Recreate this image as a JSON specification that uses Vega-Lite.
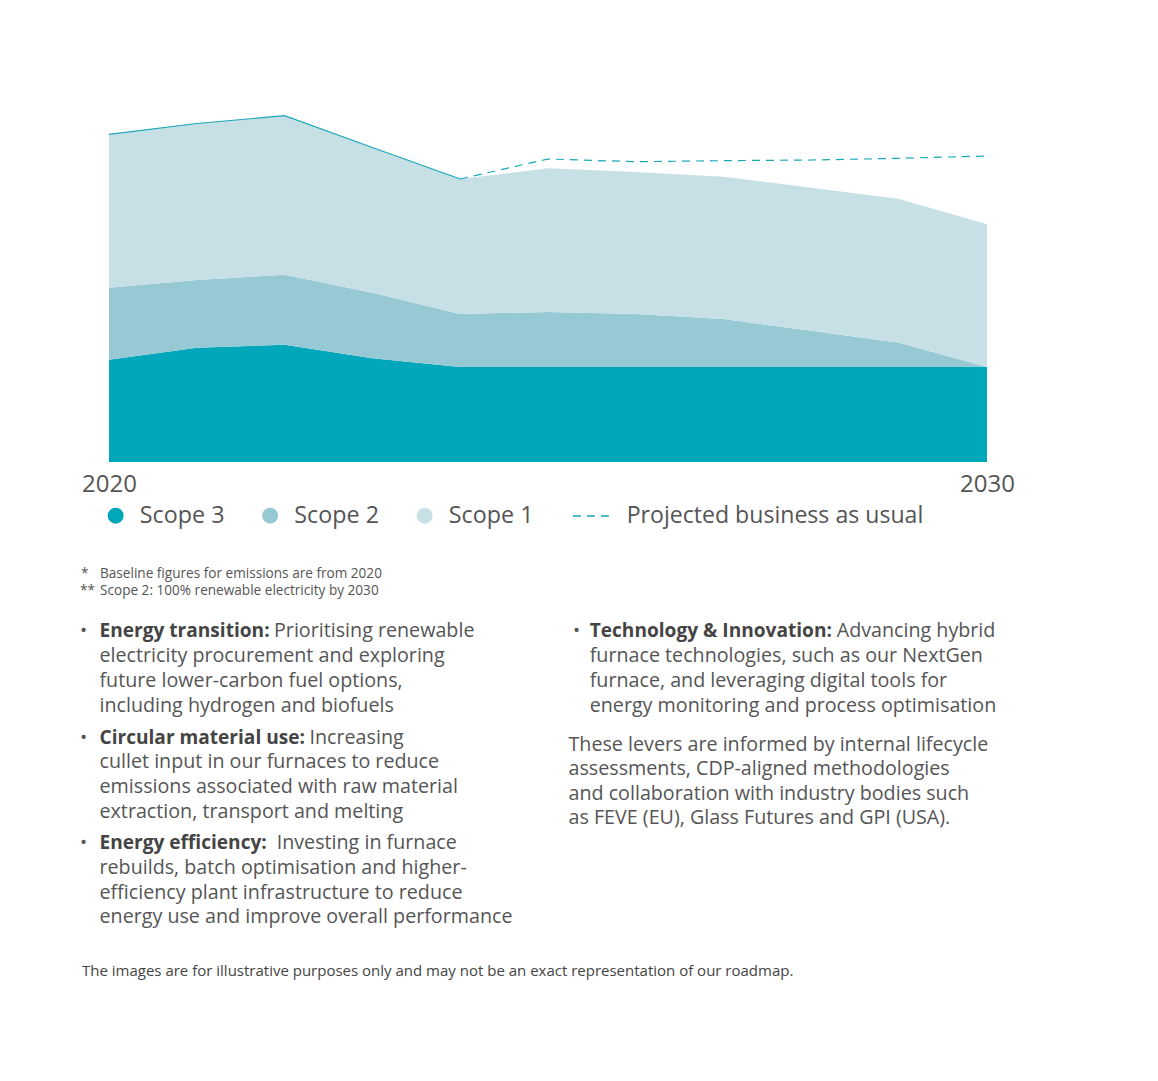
{
  "$schema": "https://vega.github.io/schema/vega-lite/v6.json",
  "background": "white",
  "padding": {"left": 80, "top": 100, "right": 0, "bottom": 0},
  "bounds": "flush",
  "spacing": 0,
  "config": {
    "view": {"stroke": null},
    "font": "Open Sans",
    "text": {"font": "Open Sans", "align": "left", "baseline": "alphabetic", "color": "#555555"}
  },
  "vconcat": [
    {
      "width": 936,
      "height": 362,
      "data": {
        "values": [
          {"year": 2020, "series": "Scope 3", "value": 102.3},
          {"year": 2021, "series": "Scope 3", "value": 114.3},
          {"year": 2022, "series": "Scope 3", "value": 117.3},
          {"year": 2023, "series": "Scope 3", "value": 103.7},
          {"year": 2024, "series": "Scope 3", "value": 95},
          {"year": 2025, "series": "Scope 3", "value": 95},
          {"year": 2026, "series": "Scope 3", "value": 95},
          {"year": 2027, "series": "Scope 3", "value": 95},
          {"year": 2028, "series": "Scope 3", "value": 95},
          {"year": 2029, "series": "Scope 3", "value": 95},
          {"year": 2030, "series": "Scope 3", "value": 95},
          {"year": 2020, "series": "Scope 2", "value": 72.0},
          {"year": 2021, "series": "Scope 2", "value": 67.7},
          {"year": 2022, "series": "Scope 2", "value": 70.0},
          {"year": 2023, "series": "Scope 2", "value": 65.6},
          {"year": 2024, "series": "Scope 2", "value": 53.0},
          {"year": 2025, "series": "Scope 2", "value": 55.0},
          {"year": 2026, "series": "Scope 2", "value": 53.0},
          {"year": 2027, "series": "Scope 2", "value": 48.0},
          {"year": 2028, "series": "Scope 2", "value": 36.2},
          {"year": 2029, "series": "Scope 2", "value": 24.3},
          {"year": 2030, "series": "Scope 2", "value": 0},
          {"year": 2020, "series": "Scope 1", "value": 153.4},
          {"year": 2021, "series": "Scope 1", "value": 156.5},
          {"year": 2022, "series": "Scope 1", "value": 159.0},
          {"year": 2023, "series": "Scope 1", "value": 145.2},
          {"year": 2024, "series": "Scope 1", "value": 135.0},
          {"year": 2025, "series": "Scope 1", "value": 143.7},
          {"year": 2026, "series": "Scope 1", "value": 142.0},
          {"year": 2027, "series": "Scope 1", "value": 142.3},
          {"year": 2028, "series": "Scope 1", "value": 143.0},
          {"year": 2029, "series": "Scope 1", "value": 143.7},
          {"year": 2030, "series": "Scope 1", "value": 142.7},
          {"year": 2020, "series": "Total", "value": 327.7},
          {"year": 2021, "series": "Total", "value": 338.5},
          {"year": 2022, "series": "Total", "value": 346.3},
          {"year": 2023, "series": "Total", "value": 314.5},
          {"year": 2024, "series": "Total", "value": 283.0},
          {"year": 2024, "series": "Projected business as usual", "value": 283.0},
          {"year": 2025, "series": "Projected business as usual", "value": 303.0},
          {"year": 2026, "series": "Projected business as usual", "value": 300.3},
          {"year": 2027, "series": "Projected business as usual", "value": 301.3},
          {"year": 2028, "series": "Projected business as usual", "value": 302.0},
          {"year": 2029, "series": "Projected business as usual", "value": 303.7},
          {"year": 2030, "series": "Projected business as usual", "value": 306.0}
        ]
      },
      "encoding": {
        "x": {
          "field": "year",
          "type": "quantitative",
          "scale": {"domain": [2020, 2030], "padding": 29, "nice": false, "zero": false},
          "axis": {
            "title": null,
            "values": [2020, 2030],
            "format": "d",
            "domain": false,
            "ticks": false,
            "tickSize": 0,
            "grid": false,
            "labelFontSize": 24,
            "labelColor": "#555555",
            "labelPadding": 10,
            "labelFont": "Open Sans"
          }
        }
      },
      "layer": [
        {
          "transform": [{"filter": "datum.series === 'Scope 1' || datum.series === 'Scope 2' || datum.series === 'Scope 3'"}],
          "mark": {"type": "area", "opacity": 1},
          "encoding": {
            "y": {"field": "value", "type": "quantitative", "stack": "zero", "scale": {"domain": [0, 362], "nice": false}, "axis": null},
            "color": {
              "field": "series",
              "type": "nominal",
              "scale": {"domain": ["Scope 3", "Scope 2", "Scope 1"], "range": ["#00a6b9", "#97c9d4", "#c6e0e6"]},
              "legend": {
                "title": null,
                "orient": "none",
                "legendX": 24,
                "legendY": 404,
                "direction": "horizontal",
                "symbolType": "circle",
                "symbolSize": 254,
                "symbolOpacity": 1,
                "symbolStrokeWidth": 0,
                "labelFontSize": 23.3,
                "labelColor": "#555555",
                "labelFont": "Open Sans",
                "labelOffset": 12.5,
                "labelLimit": 0,
                "columnPadding": 33.5,
                "padding": 0
              }
            },
            "order": {"field": "series", "sort": "descending"}
          }
        },
        {
          "transform": [{"filter": "datum.series === 'Total'"}],
          "mark": {"type": "line", "color": "#1aa8b9", "strokeWidth": 1.2},
          "encoding": {
            "y": {"field": "value", "type": "quantitative", "axis": null}
          }
        },
        {
          "transform": [{"filter": "datum.series === 'Projected business as usual'"}],
          "mark": {"type": "line", "color": "#1aa8b9", "strokeWidth": 1.2},
          "encoding": {
            "y": {"field": "value", "type": "quantitative", "axis": null},
            "strokeDash": {
              "field": "series",
              "type": "nominal",
              "scale": {"domain": ["Projected business as usual"], "range": [[8, 6]]},
              "legend": {
                "title": null,
                "orient": "none",
                "legendX": 491.7,
                "legendY": 394.5,
                "direction": "horizontal",
                "symbolType": "stroke",
                "symbolSize": 1650,
                "symbolStrokeColor": "#1aa8b9",
                "symbolStrokeWidth": 1.5,
                "labelFontSize": 23.1,
                "labelColor": "#555555",
                "labelFont": "Open Sans",
                "labelOffset": 12,
                "labelLimit": 0,
                "padding": 0,
                "encode": {"symbols": {"update": {"strokeDash": {"value": [6, 5]}, "stroke": {"value": "#1aa8b9"}}}}
              }
            }
          }
        }
      ]
    },
    {
      "width": 936,
      "height": {"step": 81.45},
      "data": {
        "values": [
          {"block": "notes", "line": 0, "mark": "*", "text": "Baseline figures for emissions are from 2020"},
          {"block": "notes", "line": 1, "mark": "**", "text": "Scope 2: 100% renewable electricity by 2030"}
        ]
      },
      "encoding": {
        "y": {"field": "block", "type": "nominal", "axis": null, "scale": {"type": "point", "padding": 1, "align": 0.7103, "round": false}},
        "x": {"value": 0}
      },
      "layer": [
        {
          "transform": [{"filter": "datum.line == 0"}],
          "mark": {"type": "text", "fontSize": 13.6, "color": "#555555", "dx": 1},
          "encoding": {"text": {"field": "mark"}}
        },
        {
          "transform": [{"filter": "datum.line == 0"}],
          "mark": {"type": "text", "fontSize": 13.6, "color": "#555555", "dx": 20},
          "encoding": {"text": {"field": "text"}}
        },
        {
          "transform": [{"filter": "datum.line == 1"}],
          "mark": {"type": "text", "fontSize": 13.6, "color": "#555555", "dy": 16.8},
          "encoding": {"text": {"field": "mark"}}
        },
        {
          "transform": [{"filter": "datum.line == 1"}],
          "mark": {"type": "text", "fontSize": 13.6, "color": "#555555", "dx": 20, "dy": 16.8},
          "encoding": {"text": {"field": "text"}}
        }
      ]
    },
    {
      "width": 936,
      "height": {"step": 24.8},
      "data": {
        "values": [
          {"block": "b1", "line": 0, "lead": "Energy transition:", "text": "Prioritising renewable"},
          {"block": "b1", "line": 1, "text": "electricity procurement and exploring"},
          {"block": "b1", "line": 2, "text": "future lower-carbon fuel options,"},
          {"block": "b1", "line": 3, "text": "including hydrogen and biofuels"},
          {"block": "b4", "line": 0, "lead": "Technology & Innovation:", "text": "Advancing hybrid"},
          {"block": "b4", "line": 1, "text": "furnace technologies, such as our NextGen"},
          {"block": "b4", "line": 2, "text": "furnace, and leveraging digital tools for"},
          {"block": "b4", "line": 3, "text": "energy monitoring and process optimisation"}
        ]
      },
      "encoding": {
        "y": {"field": "line", "type": "ordinal", "axis": null, "scale": {"type": "point", "padding": 0.56855, "align": 0.43972, "round": false}},
        "x": {"value": 0}
      },
      "layer": [
        {"transform": [{"filter": "datum.block === 'b1' && datum.line == 0"}], "mark": {"type": "text", "fontSize": 19}, "encoding": {"text": {"value": "•"}}},
        {"transform": [{"filter": "datum.block === 'b1' && datum.line == 0"}], "mark": {"type": "text", "fontSize": 19.1, "fontWeight": "bold", "color": "#444444", "dx": 19.5}, "encoding": {"text": {"field": "lead"}}},
        {"transform": [{"filter": "datum.block === 'b1' && datum.line == 0"}], "mark": {"type": "text", "fontSize": 19.7, "dx": 194}, "encoding": {"text": {"field": "text"}}},
        {"transform": [{"filter": "datum.block === 'b1' && datum.line > 0"}], "mark": {"type": "text", "fontSize": 19.7, "dx": 19.5}, "encoding": {"text": {"field": "text"}}},
        {"transform": [{"filter": "datum.block === 'b4' && datum.line == 0"}], "mark": {"type": "text", "fontSize": 19, "dx": 493}, "encoding": {"text": {"value": "•"}}},
        {"transform": [{"filter": "datum.block === 'b4' && datum.line == 0"}], "mark": {"type": "text", "fontSize": 19.1, "fontWeight": "bold", "color": "#444444", "dx": 509.7}, "encoding": {"text": {"field": "lead"}}},
        {"transform": [{"filter": "datum.block === 'b4' && datum.line == 0"}], "mark": {"type": "text", "fontSize": 19.7, "dx": 756.7}, "encoding": {"text": {"field": "text"}}},
        {"transform": [{"filter": "datum.block === 'b4' && datum.line > 0"}], "mark": {"type": "text", "fontSize": 19.7, "dx": 509.7}, "encoding": {"text": {"field": "text"}}}
      ]
    },
    {
      "width": 936,
      "height": {"step": 24.6},
      "data": {
        "values": [
          {"block": "b2", "line": 0, "lead": "Circular material use:", "text": "Increasing"},
          {"block": "b2", "line": 1, "text": "cullet input in our furnaces to reduce"},
          {"block": "b2", "line": 2, "text": "emissions associated with raw material"},
          {"block": "b2", "line": 3, "text": "extraction, transport and melting"},
          {"block": "para", "line": 0, "text": "These levers are informed by internal lifecycle"},
          {"block": "para", "line": 1, "text": "assessments, CDP-aligned methodologies"},
          {"block": "para", "line": 2, "text": "and collaboration with industry bodies such"},
          {"block": "para", "line": 3, "text": "as FEVE (EU), Glass Futures and GPI (USA)."}
        ]
      },
      "encoding": {
        "y": {"field": "line", "type": "ordinal", "axis": null, "scale": {"type": "point", "padding": 0.64228, "align": 0.5, "round": false}},
        "x": {"value": 0}
      },
      "layer": [
        {"transform": [{"filter": "datum.block === 'b2' && datum.line == 0"}], "mark": {"type": "text", "fontSize": 19}, "encoding": {"text": {"value": "•"}}},
        {"transform": [{"filter": "datum.block === 'b2' && datum.line == 0"}], "mark": {"type": "text", "fontSize": 19.1, "fontWeight": "bold", "color": "#444444", "dx": 19.5}, "encoding": {"text": {"field": "lead"}}},
        {"transform": [{"filter": "datum.block === 'b2' && datum.line == 0"}], "mark": {"type": "text", "fontSize": 19.7, "dx": 229.5}, "encoding": {"text": {"field": "text"}}},
        {"transform": [{"filter": "datum.block === 'b2' && datum.line > 0"}], "mark": {"type": "text", "fontSize": 19.7, "dx": 19.5}, "encoding": {"text": {"field": "text"}}},
        {"transform": [{"filter": "datum.block === 'para'"}], "mark": {"type": "text", "fontSize": 19.7, "dx": 488.5, "dy": 6.7}, "encoding": {"text": {"field": "text"}}}
      ]
    },
    {
      "width": 936,
      "height": {"step": 24.67},
      "data": {
        "values": [
          {"block": "b3", "line": 0, "lead": "Energy efficiency:", "text": "Investing in furnace"},
          {"block": "b3", "line": 1, "text": "rebuilds, batch optimisation and higher-"},
          {"block": "b3", "line": 2, "text": "efficiency plant infrastructure to reduce"},
          {"block": "b3", "line": 3, "text": "energy use and improve overall performance"}
        ]
      },
      "encoding": {
        "y": {"field": "line", "type": "ordinal", "axis": null, "scale": {"type": "point", "padding": 0.62424, "align": 0.5, "round": false}},
        "x": {"value": 0}
      },
      "layer": [
        {"transform": [{"filter": "datum.line == 0"}], "mark": {"type": "text", "fontSize": 19}, "encoding": {"text": {"value": "•"}}},
        {"transform": [{"filter": "datum.line == 0"}], "mark": {"type": "text", "fontSize": 19.1, "fontWeight": "bold", "color": "#444444", "dx": 19.5}, "encoding": {"text": {"field": "lead"}}},
        {"transform": [{"filter": "datum.line == 0"}], "mark": {"type": "text", "fontSize": 19.7, "dx": 196.7}, "encoding": {"text": {"field": "text"}}},
        {"transform": [{"filter": "datum.line > 0"}], "mark": {"type": "text", "fontSize": 19.7, "dx": 19.5}, "encoding": {"text": {"field": "text"}}}
      ]
    },
    {
      "width": 936,
      "height": {"step": 16},
      "data": {"values": [{"line": 0, "text": "The images are for illustrative purposes only and may not be an exact representation of our roadmap."}]},
      "mark": {"type": "text", "fontSize": 15, "color": "#444444", "dx": 2},
      "encoding": {
        "y": {"field": "line", "type": "ordinal", "axis": null, "scale": {"type": "point", "padding": 1.41563, "align": 0.8234, "round": false}},
        "x": {"value": 0},
        "text": {"field": "text"}
      }
    }
  ]
}
